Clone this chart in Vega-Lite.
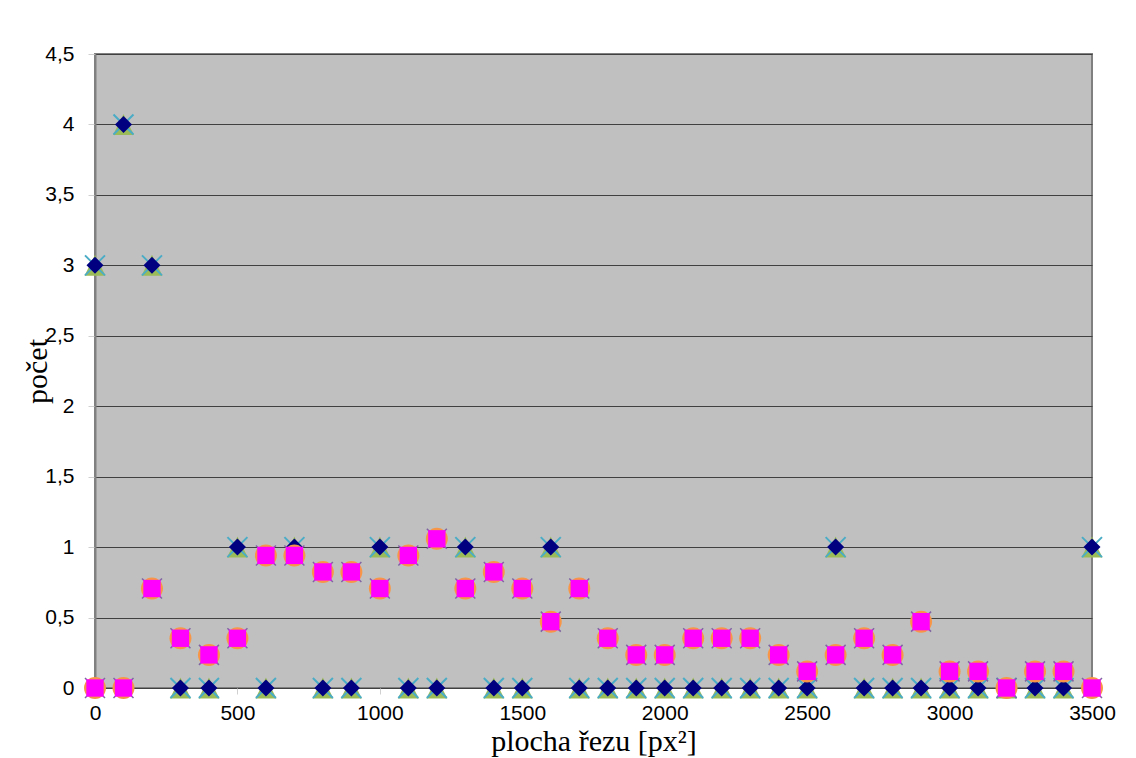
{
  "$schema": "https://vega.github.io/schema/vega-lite/v6.json",
  "autosize": "none",
  "width": 997,
  "height": 634,
  "padding": {"left": 95, "top": 54, "right": 44, "bottom": 70},
  "background": "white",
  "config": {
    "locale": {"number": {"decimal": ",", "thousands": "", "grouping": [3], "currency": ["", ""]}},
    "view": {"fill": "#C0C0C0", "stroke": "#808080", "strokeWidth": 2}
  },
  "data": {"values": [
    {"x": 0, "count": 3, "smooth": 0},
    {"x": 100, "count": 4, "smooth": 0},
    {"x": 200, "count": 3, "smooth": 0.706},
    {"x": 300, "count": 0, "smooth": 0.353},
    {"x": 400, "count": 0, "smooth": 0.235},
    {"x": 500, "count": 1, "smooth": 0.353},
    {"x": 600, "count": 0, "smooth": 0.941},
    {"x": 700, "count": 1, "smooth": 0.941},
    {"x": 800, "count": 0, "smooth": 0.824},
    {"x": 900, "count": 0, "smooth": 0.824},
    {"x": 1000, "count": 1, "smooth": 0.706},
    {"x": 1100, "count": 0, "smooth": 0.941},
    {"x": 1200, "count": 0, "smooth": 1.059},
    {"x": 1300, "count": 1, "smooth": 0.706},
    {"x": 1400, "count": 0, "smooth": 0.824},
    {"x": 1500, "count": 0, "smooth": 0.706},
    {"x": 1600, "count": 1, "smooth": 0.471},
    {"x": 1700, "count": 0, "smooth": 0.706},
    {"x": 1800, "count": 0, "smooth": 0.353},
    {"x": 1900, "count": 0, "smooth": 0.235},
    {"x": 2000, "count": 0, "smooth": 0.235},
    {"x": 2100, "count": 0, "smooth": 0.353},
    {"x": 2200, "count": 0, "smooth": 0.353},
    {"x": 2300, "count": 0, "smooth": 0.353},
    {"x": 2400, "count": 0, "smooth": 0.235},
    {"x": 2500, "count": 0, "smooth": 0.118},
    {"x": 2600, "count": 1, "smooth": 0.235},
    {"x": 2700, "count": 0, "smooth": 0.353},
    {"x": 2800, "count": 0, "smooth": 0.235},
    {"x": 2900, "count": 0, "smooth": 0.471},
    {"x": 3000, "count": 0, "smooth": 0.118},
    {"x": 3100, "count": 0, "smooth": 0.118},
    {"x": 3200, "count": 0, "smooth": 0},
    {"x": 3300, "count": 0, "smooth": 0.118},
    {"x": 3400, "count": 0, "smooth": 0.118},
    {"x": 3500, "count": 1, "smooth": 0}
  ]},
  "encoding": {
    "x": {"field": "x", "type": "quantitative", "scale": {"domain": [0, 3500], "nice": false, "zero": false},
      "axis": {"title": "plocha řezu [px²]", "values": [0, 500, 1000, 1500, 2000, 2500, 3000, 3500], "format": "d", "grid": false, "domain": false, "tickColor": "#d0d0d0", "tickSize": 6, "labelPadding": 8, "labelFlush": false, "labelOverlap": false, "labelFont": "Liberation Sans", "labelFontSize": 21, "labelColor": "black", "titleFont": "Liberation Serif", "titleFontSize": 30, "titleFontWeight": "normal", "titleColor": "black", "titlePadding": 3}}
  },
  "layer": [
    {
      "mark": {"type": "point", "filled": true, "shape": "M0,-1L1,1L-1,1Z", "size": 441, "color": "#9BBB59", "opacity": 1},
      "encoding": {"y": {"field": "count", "type": "quantitative", "scale": {"domain": [0, 4.5], "nice": false},
        "axis": {"title": "počet", "values": [0, 0.5, 1, 1.5, 2, 2.5, 3, 3.5, 4, 4.5], "format": "~r", "grid": true, "gridColor": "#404040", "gridWidth": 1, "domainColor": "#808080", "domainWidth": 2, "tickColor": "#d0d0d0", "tickSize": 7, "labelPadding": 14, "labelFont": "Liberation Sans", "labelFontSize": 21, "labelColor": "black", "titleFont": "Liberation Serif", "titleFontSize": 30, "titleFontWeight": "normal", "titleColor": "black", "titlePadding": -8}}}
    },
    {
      "mark": {"type": "point", "filled": false, "shape": "M-1,-1L1,1M1,-1L-1,1", "size": 400, "stroke": "#4BACC6", "strokeWidth": 2, "opacity": 1},
      "encoding": {"y": {"field": "count", "type": "quantitative"}}
    },
    {
      "mark": {"type": "point", "filled": true, "shape": "M0,-1L1,0L0,1L-1,0Z", "size": 289, "color": "#000080", "opacity": 1},
      "encoding": {"y": {"field": "count", "type": "quantitative"}}
    },
    {
      "mark": {"type": "point", "filled": true, "shape": "M-1,0A1,1 0 1,0 1,0A1,1 0 1,0 -1,0Z", "size": 484, "color": "#F79646", "opacity": 1},
      "encoding": {"y": {"field": "smooth", "type": "quantitative"}}
    },
    {
      "mark": {"type": "point", "filled": false, "shape": "M-1,-1L1,1M1,-1L-1,1", "size": 400, "stroke": "#8064A2", "strokeWidth": 1.5, "opacity": 1},
      "encoding": {"y": {"field": "smooth", "type": "quantitative"}}
    },
    {
      "mark": {"type": "point", "filled": true, "shape": "M-1,-1L1,-1L1,1L-1,1Z", "size": 300, "color": "#FF00FF", "opacity": 1},
      "encoding": {"y": {"field": "smooth", "type": "quantitative"}}
    }
  ]
}
